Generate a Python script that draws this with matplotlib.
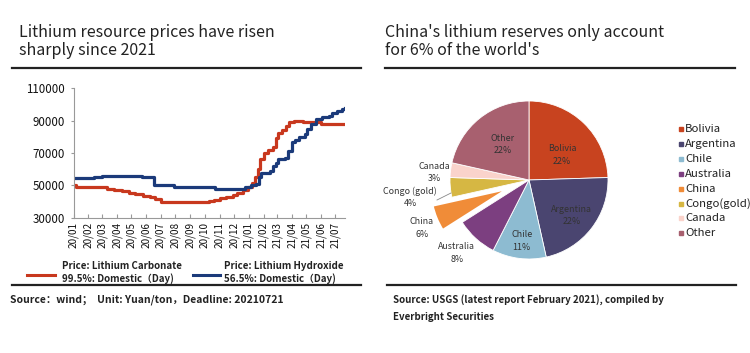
import matplotlib
matplotlib.use('Agg')
import matplotlib.pyplot as plt
from matplotlib.lines import Line2D
import pandas as pd

plt.rcParams['font.family'] = ['Noto Sans CJK SC', 'DejaVu Sans']

# ---------------- data: lithium prices (Yuan/ton) ----------------
carb_dates = ['2020-01-01', '2020-01-06', '2020-03-12', '2020-03-25', '2020-04-12',
              '2020-04-25', '2020-05-08', '2020-05-25', '2020-06-08', '2020-06-20',
              '2020-07-01', '2020-10-10', '2020-10-20', '2020-11-01', '2020-11-15',
              '2020-11-29', '2020-12-08', '2020-12-19', '2020-12-30', '2021-01-08',
              '2021-01-15', '2021-01-20', '2021-01-25', '2021-02-01', '2021-02-10',
              '2021-02-20', '2021-02-26', '2021-03-03', '2021-03-12', '2021-03-20',
              '2021-03-27', '2021-04-05', '2021-04-25', '2021-06-01', '2021-07-21']
carb_vals = [50000, 49000, 48000, 47000, 46500,
             45500, 44500, 43500, 42500, 41500,
             40000, 40500, 41000, 42000, 43000,
             44000, 45500, 47000, 49000, 51500,
             55000, 60000, 66000, 70000, 72000,
             74000, 79000, 82500, 84000, 86500,
             89000, 90000, 89000, 88000, 88000]

hyd_dates = ['2020-01-01', '2020-02-12', '2020-03-01', '2020-05-23', '2020-06-18',
             '2020-07-29', '2020-10-22', '2020-12-24', '2021-01-06', '2021-01-16',
             '2021-01-22', '2021-01-27', '2021-02-14', '2021-02-21', '2021-02-27',
             '2021-03-04', '2021-03-18', '2021-03-25', '2021-04-01', '2021-04-08',
             '2021-04-15', '2021-04-28', '2021-05-03', '2021-05-10', '2021-05-22',
             '2021-06-03', '2021-06-17', '2021-06-24', '2021-07-04', '2021-07-14',
             '2021-07-21']
hyd_vals = [54500, 55000, 56000, 55000, 50000,
            49000, 48000, 49000, 50000, 51000,
            55000, 57500, 59000, 62000, 64000,
            66000, 67000, 71000, 77000, 78000,
            80000, 82000, 85000, 88000, 91000,
            92000, 93000, 94500, 96000, 97500,
            98000]

month_ticks = pd.date_range('2020-01-01', '2021-07-01', freq='MS')
month_labels = [d.strftime('%y/%m') for d in month_ticks]
y_ticks = [30000, 50000, 70000, 90000, 110000]

# ---------------- data: lithium reserves ----------------
countries = ['Bolivia', 'Argentina', 'Chile', 'Australia', 'China',
             'Congo(gold)', 'Canada', 'Other']
slice_labels = ['Bolivia', 'Argentina', 'Chile', 'Australia', 'China',
                'Congo (gold)', 'Canada', 'Other']
shares = [24.5, 22, 11, 8.5, 5.5, 4, 3, 21.5]
share_text = ['22%', '22%', '11%', '8%', '6%', '4%', '3%', '22%']

W, H = 750, 353
fig = plt.figure(figsize=(W / 100, H / 100), dpi=100)
fig.patch.set_facecolor('white')


def fx(x):
    return x / W


def fy(y):
    return 1 - y / H


def hrule(x0, x1, y, lw=1.6):
    fig.add_artist(Line2D([fx(x0), fx(x1)], [fy(y), fy(y)], color='#222222',
                          lw=lw, transform=fig.transFigure))


title_kw = dict(fontsize=11.5, color='#222222', va='top', ha='left', linespacing=1.05,
                fontweight='medium')
fig.text(fx(19), fy(24), 'Lithium resource prices have risen\nsharply since 2021', **title_kw)
fig.text(fx(385), fy(24), "China's lithium reserves only account\nfor 6% of the world's", **title_kw)
hrule(12, 361, 68)
hrule(385, 735, 68)
hrule(12, 361, 285)
hrule(387, 736, 285)

# ---------------- line chart ----------------
red = '#C8381E'
blue = '#1B3A7A'
ax = fig.add_axes([fx(73.5), fy(217.7), (345 - 73.5) / W, (217.7 - 88.3) / H])
ax.plot(pd.to_datetime(carb_dates), carb_vals, drawstyle='steps-post', color=red, lw=2.3)
ax.plot(pd.to_datetime(hyd_dates), hyd_vals, drawstyle='steps-post', color=blue, lw=2.3)
ax.set_ylim(30000, 110000)
ax.set_xlim(pd.Timestamp('2020-01-01'), pd.Timestamp('2021-07-21'))
ax.set_yticks(y_ticks)
ax.set_yticklabels([str(v) for v in y_ticks], fontsize=8.3, color='#111111')
ax.set_xticks(month_ticks)
ax.set_xticklabels(month_labels, rotation=90, fontsize=7.2, color='#111111')
for s in ['top', 'right']:
    ax.spines[s].set_visible(False)
for s in ['left', 'bottom']:
    ax.spines[s].set_color('#999999')
    ax.spines[s].set_linewidth(0.8)
ax.tick_params(axis='x', direction='in', length=3, color='#999999', pad=3)
ax.tick_params(axis='y', direction='out', length=2, color='#999999', pad=4)

# legend (manual)
leg_kw = dict(fontsize=7, color='#222222', fontweight='bold', va='center', ha='left',
              linespacing=1.25)
fig.add_artist(Line2D([fx(27), fx(55)], [fy(275), fy(275)], color=red, lw=2.2,
                      transform=fig.transFigure))
fig.text(fx(62), fy(272.5), 'Price: Lithium Carbonate\n99.5%: Domestic（Day)', **leg_kw)
fig.add_artist(Line2D([fx(192.5), fx(220)], [fy(275), fy(275)], color=blue, lw=2.2,
                      transform=fig.transFigure))
fig.text(fx(223.5), fy(272.5), 'Price: Lithium Hydroxide\n56.5%: Domestic（Day)', **leg_kw)

fig.text(fx(10), fy(299.5), 'Source：wind；  Unit: Yuan/ton，Deadline: 20210721',
         fontsize=7.5, fontweight='bold', color='#222222', va='center', ha='left')

# ---------------- pie chart ----------------
colors = ['#C8431F', '#4A4570', '#8DBBD1', '#7C3F80', '#F08C38',
          '#D6B743', '#FAD3CB', '#A8606F']
explode = [0, 0, 0, 0, 0.27, 0, 0, 0]
cx, cy, R = 529, 180, 79
half = 125
pax = fig.add_axes([fx(cx - half), fy(cy + half), 2 * half / W, 2 * half / H])
wedges, _ = pax.pie(shares, colors=colors, startangle=90, counterclock=False,
                    explode=explode, radius=1,
                    wedgeprops=dict(edgecolor='white', linewidth=0.6))
wedges[4].set_linewidth(2.0)
pax.set_xlim(-half / R, half / R)
pax.set_ylim(-half / R, half / R)
pax.set_aspect('auto')
pax.axis('off')


def d(x, y):
    return ((x - cx) / R, (cy - y) / R)


label_pos = [(562, 155), (571.7, 215.5), (521.7, 241), (456.7, 253),
             (421.7, 228), (410, 197.5), (434.3, 172.5), (503, 144.5)]
for name, txt, (px, py) in zip(slice_labels, share_text, label_pos):
    xx, yy = d(px, py)
    pax.text(xx, yy, f'{name}\n{txt}', fontsize=6.4, color='#333333',
             ha='center', va='center', linespacing=1.5)

# leader line for Congo
x0, y0 = d(437, 200)
x1, y1 = d(451, 193)
pax.plot([x0, x1], [y0, y1], color='#888888', lw=0.6)

# legend (right)
for i, (name, col) in enumerate(zip(countries, colors)):
    yy = 129 + i * 14.9
    fig.patches.append(matplotlib.patches.Rectangle(
        (fx(679), fy(yy + 2)), 4 / W, 4 / H, color=col, transform=fig.transFigure))
    fig.text(fx(685), fy(yy), name, fontsize=8.2, color='#222222', va='center', ha='left')

fig.text(fx(393), fy(299.5), 'Source: USGS (latest report February 2021), compiled by',
         fontsize=7, fontweight='bold', color='#222222', va='center', ha='left')
fig.text(fx(393), fy(317), 'Everbright Securities',
         fontsize=7, fontweight='bold', color='#222222', va='center', ha='left')

fig.savefig('out.png', dpi=100)
